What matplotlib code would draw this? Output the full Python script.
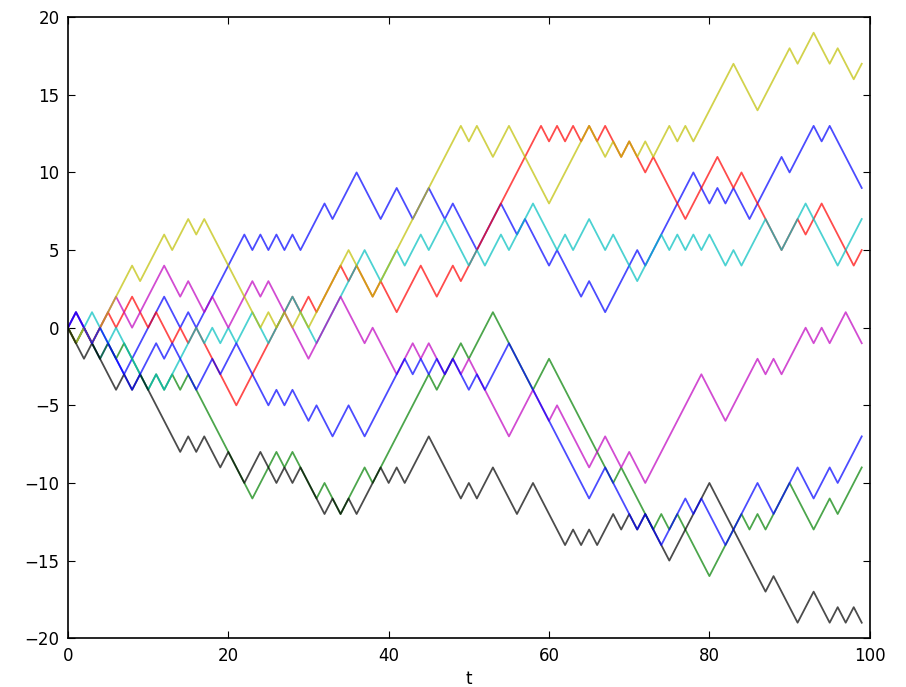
import matplotlib
matplotlib.use("Agg")
import matplotlib.pyplot as plt

# turning points (t, value) of each random walk
blue1_t = [0, 1, 4, 5, 7, 12, 14, 15, 16, 22, 23, 24, 25, 26, 27, 28, 29, 32, 33, 36, 39, 41, 43, 45, 47, 48, 51, 54, 56, 57, 60, 61, 64, 65, 67, 71, 72, 78, 80, 81, 82, 83, 85, 89, 90, 93, 94, 95, 99]
blue1_v = [0, 1, -2, -1, -3, 2, 0, 1, 0, 6, 5, 6, 5, 6, 5, 6, 5, 8, 7, 10, 7, 9, 7, 9, 7, 8, 5, 8, 6, 7, 4, 5, 2, 3, 1, 5, 4, 10, 8, 9, 8, 9, 7, 11, 10, 13, 12, 13, 9]

green_t = [0, 1, 2, 4, 5, 6, 7, 10, 11, 12, 13, 14, 15, 23, 26, 27, 28, 31, 32, 34, 37, 38, 45, 46, 49, 50, 53, 58, 60, 68, 69, 72, 73, 74, 75, 76, 80, 84, 85, 86, 87, 90, 93, 95, 96, 99]
green_v = [0, -1, 0, -2, -1, -2, -1, -4, -3, -4, -3, -4, -3, -11, -8, -9, -8, -11, -10, -12, -9, -10, -3, -4, -1, -2, 1, -4, -2, -10, -9, -12, -13, -12, -13, -12, -16, -12, -13, -12, -13, -10, -13, -11, -12, -9]

red_t = [0, 1, 2, 3, 5, 6, 8, 10, 11, 13, 14, 15, 16, 21, 28, 29, 30, 31, 34, 35, 36, 38, 39, 41, 44, 46, 48, 49, 59, 60, 61, 62, 63, 64, 65, 66, 67, 69, 70, 72, 73, 77, 81, 83, 84, 87, 89, 91, 92, 94, 98, 99]
red_v = [0, -1, 0, -1, 1, 0, 2, 0, 1, -1, 0, -1, 0, -5, 2, 1, 2, 1, 4, 3, 4, 2, 3, 1, 4, 2, 4, 3, 13, 12, 13, 12, 13, 12, 13, 12, 13, 11, 12, 10, 11, 7, 11, 9, 10, 7, 5, 7, 6, 8, 4, 5]

cyan_t = [0, 1, 2, 3, 4, 5, 6, 7, 10, 11, 12, 16, 17, 18, 19, 20, 21, 23, 25, 28, 31, 37, 39, 41, 42, 44, 45, 47, 50, 51, 52, 54, 55, 58, 61, 62, 63, 65, 67, 68, 71, 72, 74, 75, 76, 77, 78, 79, 80, 82, 83, 84, 87, 89, 92, 96, 99]
cyan_v = [0, -1, 0, 1, 0, -1, 0, -1, -4, -3, -4, 0, -1, 0, -1, 0, -1, 1, -1, 2, -1, 5, 3, 5, 4, 6, 5, 7, 4, 5, 4, 6, 5, 8, 5, 6, 5, 7, 5, 6, 3, 4, 6, 5, 6, 5, 6, 5, 6, 4, 5, 4, 7, 5, 8, 4, 7]

magenta_t = [0, 1, 3, 6, 8, 12, 14, 15, 17, 18, 20, 23, 24, 25, 30, 34, 37, 38, 41, 43, 44, 45, 47, 48, 49, 50, 55, 58, 60, 61, 65, 67, 69, 70, 72, 79, 82, 86, 87, 88, 89, 92, 93, 94, 95, 97, 99]
magenta_v = [0, 1, -1, 2, 0, 4, 2, 3, 1, 2, 0, 3, 2, 3, -2, 2, -1, 0, -3, -1, -2, -1, -3, -2, -3, -2, -7, -4, -6, -5, -9, -7, -9, -8, -10, -3, -6, -2, -3, -2, -3, 0, -1, 0, -1, 1, -1]

yellow_t = [0, 1, 2, 3, 6, 8, 9, 12, 13, 15, 16, 17, 24, 25, 26, 27, 28, 29, 30, 35, 38, 49, 50, 51, 53, 55, 60, 65, 67, 68, 69, 70, 71, 72, 73, 75, 76, 77, 78, 83, 86, 90, 91, 93, 95, 96, 98, 99]
yellow_v = [0, -1, 0, -1, 2, 4, 3, 6, 5, 7, 6, 7, 0, 1, 0, 1, 0, 1, 0, 5, 2, 13, 12, 13, 11, 13, 8, 13, 11, 12, 11, 12, 11, 12, 11, 13, 12, 13, 12, 17, 14, 18, 17, 19, 17, 18, 16, 17]

black_t = [0, 2, 3, 6, 7, 8, 9, 14, 15, 16, 17, 19, 20, 22, 24, 26, 27, 28, 29, 32, 33, 34, 35, 36, 39, 40, 41, 42, 45, 49, 50, 51, 53, 56, 58, 62, 63, 64, 65, 66, 68, 69, 70, 71, 72, 75, 80, 87, 88, 91, 93, 95, 96, 97, 98, 99]
black_v = [0, -2, -1, -4, -3, -4, -3, -8, -7, -8, -7, -9, -8, -10, -8, -10, -9, -10, -9, -12, -11, -12, -11, -12, -9, -10, -9, -10, -7, -11, -10, -11, -9, -12, -10, -14, -13, -14, -13, -14, -12, -13, -12, -13, -12, -15, -10, -17, -16, -19, -17, -19, -18, -19, -18, -19]

blue2_t = [0, 1, 3, 4, 8, 11, 12, 13, 16, 18, 19, 21, 25, 26, 27, 28, 30, 31, 33, 35, 37, 42, 43, 44, 45, 46, 47, 48, 50, 51, 52, 55, 65, 67, 71, 72, 74, 77, 78, 79, 82, 86, 88, 91, 93, 95, 96, 99]
blue2_v = [0, 1, -1, 0, -4, -1, -2, -1, -4, -2, -3, -1, -5, -4, -5, -4, -6, -5, -7, -5, -7, -2, -3, -2, -3, -2, -3, -2, -4, -3, -4, -1, -11, -9, -13, -12, -14, -11, -12, -11, -14, -10, -12, -9, -11, -9, -10, -7]

walks = [
    (blue1_t, blue1_v, 'b'),
    (green_t, green_v, 'g'),
    (red_t, red_v, 'r'),
    (cyan_t, cyan_v, 'c'),
    (magenta_t, magenta_v, 'm'),
    (yellow_t, yellow_v, 'y'),
    (black_t, black_v, 'k'),
    (blue2_t, blue2_v, 'b'),
]

plt.rcParams['font.family'] = 'DejaVu Sans'
fig = plt.figure(figsize=(9.06, 6.87), dpi=100)
ax = fig.add_axes([0.075, 0.071, 0.885, 0.904])

for t, v, col in walks:
    ax.plot(t, v, color=col, lw=1.3, alpha=0.7)

ax.set_xlim(0, 100)
ax.set_ylim(-20, 20)
ax.set_xticks([0, 20, 40, 60, 80, 100])
ax.set_yticks([-20, -15, -10, -5, 0, 5, 10, 15, 20])
ax.tick_params(direction='in', top=True, right=True, labelsize=12, length=5, pad=6)
ax.set_xlabel('t', fontsize=12, labelpad=4)
for s in ax.spines.values():
    s.set_linewidth(1.2)

fig.savefig('out.png', dpi=100)
